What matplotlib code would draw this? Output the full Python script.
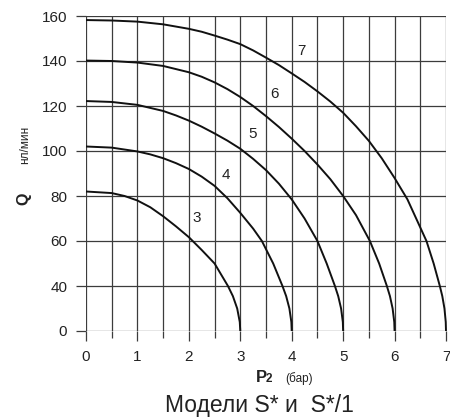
import numpy as np
import matplotlib
matplotlib.use("Agg")
import matplotlib.pyplot as plt

plt.rcParams['font.family'] = ['Liberation Sans', 'DejaVu Sans']

# y axis labels are evenly spaced but values are not (0 -> 40 is one step)
y_ticks = [0, 40, 60, 80, 100, 120, 140, 160]
x_ticks = [0, 1, 2, 3, 4, 5, 6, 7]

# curves: P2 (bar) and Q (nl/min)
p3 = [0, 0.5, 0.75, 1.0, 1.25, 1.5, 1.75, 2.0, 2.25, 2.5, 2.63, 2.76, 2.856, 2.94, 2.99, 3.0]
q3 = [82, 81.3, 80, 78, 75, 71, 66.5, 61.7, 56, 50, 45, 40, 31, 20, 8, 0]

p4 = [0, 0.5, 1.0, 1.25, 1.5, 1.75, 2.0, 2.25, 2.5, 2.75, 3.0, 3.25, 3.42, 3.64,
      3.82, 3.892, 3.955, 3.993, 4.0]
q4 = [102, 101.5, 99.8, 98.5, 96.8, 94.6, 92, 88.6, 84.5, 79, 72.5, 65.5, 60, 50,
      40, 31, 20, 8, 0]

p5 = [0, 0.5, 1.0, 1.5, 1.75, 2.0, 2.25, 2.5, 2.75, 3.0, 3.25, 3.5, 3.75, 4.0, 4.25,
      4.5, 4.68, 4.84, 4.904, 4.96, 4.994, 5.0]
q5 = [122.2, 121.8, 120.5, 117.8, 115.8, 113.5, 110.8, 107.8, 104.6, 101, 96.5, 91.5,
      85.5, 78.5, 70, 60, 50, 40, 31, 20, 8, 0]

p6 = [0, 0.5, 1.0, 1.5, 2.0, 2.25, 2.5, 2.75, 3.0, 3.25, 3.5, 3.75, 4.0, 4.25, 4.5,
      4.75, 5.0, 5.25, 5.52, 5.70, 5.85, 5.91, 5.962, 5.994, 6.0]
q6 = [140.2, 140, 139.3, 137.8, 135, 133, 130.5, 127.5, 124, 120, 115.5, 110.7, 105.5,
      100, 94, 87.5, 80, 71.5, 60, 50, 40, 31, 20, 8, 0]

p7 = [0, 0.5, 1.0, 1.5, 2.0, 2.25, 2.5, 2.75, 3.0, 3.25, 3.5, 3.75, 4.0, 4.25, 4.5,
      4.75, 5.0, 5.25, 5.5, 5.75, 6.0, 6.25, 6.5, 6.62, 6.76, 6.88, 6.928, 6.97, 6.995, 7.0]
q7 = [158.2, 158, 157.5, 156.3, 154.3, 153, 151.3, 149.5, 147.5, 144.7, 141.5, 138.2,
      134.5, 130.7, 126.5, 122, 117, 111, 104.5, 96.8, 88, 78.5, 66, 60, 50, 40, 31,
      20, 8, 0]

curves = [(p3, q3), (p4, q4), (p5, q5), (p6, q6), (p7, q7)]
curve_names = ['3', '4', '5', '6', '7']
name_x = [2.16, 2.72, 3.23, 3.66, 4.18]
name_y = [70, 89.4, 107.6, 125.3, 144.4]


def fwd(q):
    q = np.asarray(q, dtype=float)
    return np.where(q <= 40, q / 40.0, 1 + (q - 40) / 20.0)


def inv(p):
    p = np.asarray(p, dtype=float)
    return np.where(p <= 1, p * 40.0, 40 + (p - 1) * 20.0)


fig = plt.figure(figsize=(4.5, 4.18), dpi=100)
ax = fig.add_axes([86 / 450, 87 / 418, 360 / 450, 315 / 418])
ax.set_yscale('function', functions=(fwd, inv))
ax.set_xlim(0, 7)
ax.set_ylim(0, 160)

gc = '#3c3c3c'
for s in ax.spines.values():
    s.set_visible(False)
ax.set_yticks(y_ticks)
ax.set_xticks(x_ticks)
ax.set_xticks(np.arange(0.5, 7, 1.0), minor=True)
ax.yaxis.set_minor_locator(matplotlib.ticker.NullLocator())
ax.tick_params(axis='both', which='major', length=7.5, width=0.9, color=gc,
               labelsize=11, labelcolor='#222222', pad=6)
ax.tick_params(axis='x', which='minor', length=5, width=0.9, color=gc)
ax.grid(True, which='both', color=gc, linewidth=0.9)
ax.set_axisbelow(True)

for (p, q) in curves:
    ax.plot(p, q, color='#111111', linewidth=1.4, clip_on=False,
            solid_capstyle='butt', solid_joinstyle='round')

for name, tx, ty in zip(curve_names, name_x, name_y):
    ax.text(tx, ty, name, fontsize=11, color='#222222',
            ha='center', va='center')

# axis labels
fig.text(24 / 450, 1 - 199 / 418, 'Q', rotation=90, fontsize=11.5,
         fontweight='bold', ha='center', va='center', color='#222222')
fig.text(25 / 450, 1 - 145 / 418, 'нл/мин', rotation=90, fontsize=8.5,
         ha='center', va='center', color='#222222')
fig.text(256 / 450, 1 - 382 / 418, 'P', fontsize=12, fontweight='bold',
         ha='left', va='baseline', color='#222222')
fig.text(266 / 450, 1 - 382 / 418, '2', fontsize=8.5, fontweight='bold',
         ha='left', va='baseline', color='#222222')
fig.text(285 / 450, 1 - 382 / 418, '(бар)', fontsize=8.5,
         ha='left', va='baseline', color='#222222')
fig.text(259 / 450, 1 - 412 / 418, 'Модели S* и  S*/1', fontsize=16.5,
         ha='center', va='baseline', color='#222222')

fig.savefig('out.png', dpi=100)
